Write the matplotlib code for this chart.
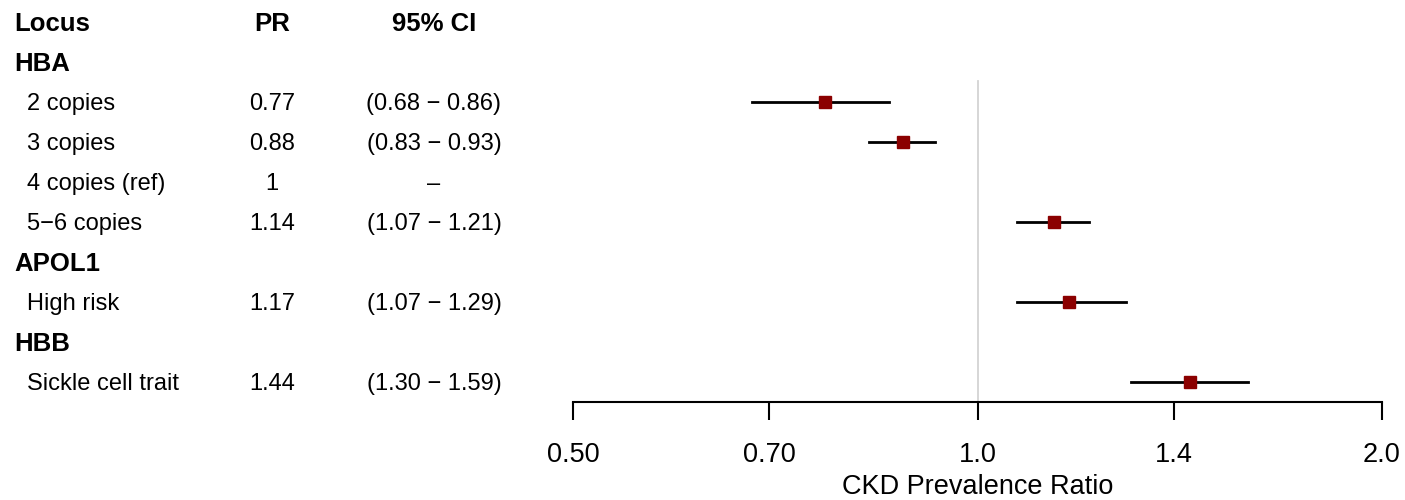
import matplotlib
matplotlib.use("Agg")
import matplotlib.pyplot as plt
import matplotlib.transforms as mtransforms
import numpy as np

plt.rcParams['font.family'] = ['Liberation Sans', 'DejaVu Sans']

# rows of the forest plot (None = group header)
labels = ["HBA", "2 copies", "3 copies", "4 copies (ref)", "5\u22126 copies",
          "APOL1", "High risk", "HBB", "Sickle cell trait"]
is_header = [True, False, False, False, False, True, False, True, False]
pr = [None, 0.77, 0.88, 1.0, 1.14, None, 1.17, None, 1.44]
ci_lo = [None, 0.68, 0.83, None, 1.07, None, 1.07, None, 1.30]
ci_hi = [None, 0.86, 0.93, None, 1.21, None, 1.29, None, 1.59]
pr_text = ["", "0.77", "0.88", "1", "1.14", "", "1.17", "", "1.44"]
ci_text = ["", "(0.68 \u2212 0.86)", "(0.83 \u2212 0.93)", "\u2013", "(1.07 \u2212 1.21)",
           "", "(1.07 \u2212 1.29)", "", "(1.30 \u2212 1.59)"]

xticks = [0.5, 0.7, 1.0, 1.4, 2.0]
xtick_labels = ["0.50", "0.70", "1.0", "1.4", "2.0"]

W, H = 1405, 500
fig = plt.figure(figsize=(W / 100, H / 100), dpi=100)
ax = fig.add_axes([573 / W, 1 - 402 / H, (1382 - 573) / W, 402 / H])
ax.set_xscale('log')
ax.set_xlim(0.5, 2.0)
ax.set_ylim(9.5, -0.55)

# reference line at 1
ax.plot([1.0, 1.0], [1.47, 9.5], color='#d3d3d3', lw=1.3, zorder=1)

for i in range(len(labels)):
    y = i + 1
    if ci_lo[i] is not None:
        ax.plot([ci_lo[i], ci_hi[i]], [y, y], color='black', lw=2, zorder=2)
    if pr[i] is not None and ci_lo[i] is not None:
        ax.plot(pr[i], y, marker='s', ms=9, color='#8b0000', zorder=3)

ax.set_xticks(xticks)
ax.set_xticklabels(xtick_labels, fontsize=19.5)
ax.xaxis.set_minor_locator(matplotlib.ticker.NullLocator())
ax.set_yticks([])
for s in ['top', 'right', 'left']:
    ax.spines[s].set_visible(False)
ax.spines['bottom'].set_linewidth(1.5)
ax.tick_params(axis='x', length=13, width=1.5, pad=16)
ax.set_xlabel("CKD Prevalence Ratio", fontsize=19.5, labelpad=4)

# text columns: x in figure fraction, y in data
trans = mtransforms.blended_transform_factory(fig.transFigure, ax.transData)
fs = 17
hfs = 18.5
dy = 0.05
ax.text(14 / W, dy, "Locus", transform=trans, fontsize=hfs, fontweight='bold', va='center', ha='left')
ax.text(272 / W, dy, "PR", transform=trans, fontsize=hfs, fontweight='bold', va='center', ha='center')
ax.text(434 / W, dy, "95% CI", transform=trans, fontsize=hfs, fontweight='bold', va='center', ha='center')

for i, lab in enumerate(labels):
    y = i + 1 + dy
    if is_header[i]:
        ax.text(14 / W, y, lab, transform=trans, fontsize=hfs, fontweight='bold', va='center', ha='left')
    else:
        ax.text(27 / W, y, lab, transform=trans, fontsize=fs, va='center', ha='left')
        ax.text(272 / W, y, pr_text[i], transform=trans, fontsize=fs, va='center', ha='center')
        ax.text(434 / W, y, ci_text[i], transform=trans, fontsize=fs, va='center', ha='center')

fig.savefig("out.png", dpi=100)
